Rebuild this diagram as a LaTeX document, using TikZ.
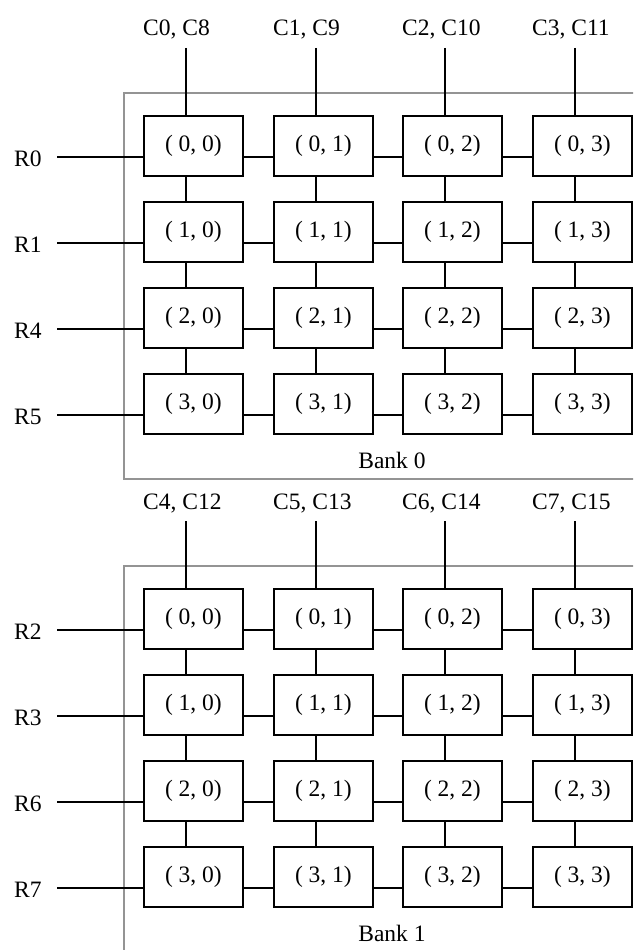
\documentclass[tikz,border=0pt]{standalone}
\usepackage{fontspec}
\setmainfont{Liberation Serif}
\begin{document}
\begin{tikzpicture}[x=1pt,y=-1pt,
  cell/.style={draw,line width=1.8pt,minimum width=99pt,minimum height=60pt,inner sep=0pt,font=\fontsize{23.5}{26}\selectfont},
  wire/.style={line width=1.8pt},
  lbl/.style={inner sep=0pt,font=\fontsize{23.5}{26}\selectfont},
  frame/.style={draw=black!42,line width=1.8pt}]
\useasboundingbox (0,0) rectangle (633,950);
\clip (0,0) rectangle (633,950);
\fill[white] (0,0) rectangle (633,950);
\foreach \b in {0,1} {
  \pgfmathsetmacro\oy{473*\b}
  \draw[frame] (124,93+\oy) rectangle (650,479+\oy);
  \node[lbl,anchor=base] (bank\b) at (392,468+\oy) {Bank \b};
  \foreach \j/\x in {0/143,1/273,2/402,3/532} {
    \pgfmathtruncatemacro\ca{\j+4*\b}
    \pgfmathtruncatemacro\cb{\j+8+4*\b}
    \node[lbl,anchor=base west] (cl\b\j) at (\x,36+\oy) {C\ca, C\cb};
    \coordinate (ct\b\j) at (\x+43,48+\oy);
    \foreach \i in {0,...,3} {
      \node[cell,anchor=north west] (box\b\i\j) at (\x,115+86*\i+\oy) {( \i, \j)};
    }
  }
  \foreach \i in {0,...,3} {
    \pgfmathtruncatemacro\r{mod(\i,2)+4*int(\i/2)+2*\b}
    \node[lbl,anchor=base west] (rl\b\i) at (14,166+86*\i+\oy) {R\r};
    \coordinate (rs\b\i) at (57,157+86*\i+\oy);
    \draw[wire] (rs\b\i) -- (rs\b\i -| box\b\i0.west);
    \foreach \j in {0,1,2} {
      \pgfmathtruncatemacro\k{\j+1}
      \draw[wire] (box\b\i\j.east |- rs\b\i) -- (box\b\i\k.west |- rs\b\i);
    }
  }
  \foreach \j in {0,...,3} {
    \draw[wire] (ct\b\j) -- (ct\b\j |- box\b0\j.north);
    \foreach \i in {0,1,2} {
      \pgfmathtruncatemacro\k{\i+1}
      \draw[wire] (box\b\i\j.south -| ct\b\j) -- (box\b\k\j.north -| ct\b\j);
    }
  }
}
\end{tikzpicture}
\end{document}
